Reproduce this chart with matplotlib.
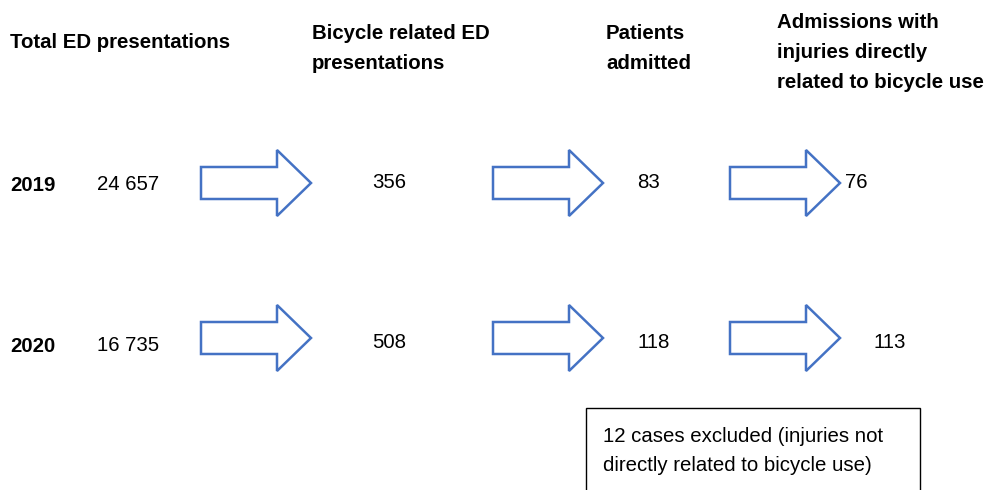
import matplotlib.pyplot as plt
from matplotlib.patches import Polygon, Rectangle

plt.rcParams['font.family'] = ['Liberation Sans', 'DejaVu Sans']

# stage headers and counts per year
headers = ['Total ED presentations',
           'Bicycle related ED\npresentations',
           'Patients\nadmitted',
           'Admissions with\ninjuries directly\nrelated to bicycle use']
years = ['2019', '2020']
total_ed = ['24 657', '16 735']
bicycle_ed = ['356', '508']
admitted = ['83', '118']
direct = ['76', '113']
note = '12 cases excluded (injuries not\ndirectly related to bicycle use)'

blue = '#4472C4'

fig = plt.figure(figsize=(9.89, 4.90), dpi=100)
ax = fig.add_axes([0, 0, 1, 1])
ax.set_xlim(0, 989)
ax.set_ylim(490, 0)
ax.axis('off')

fs = 14.7
ls = 1.72

# headers
ax.text(10, 43, headers[0], fontsize=fs, fontweight='bold', va='center', ha='left')
ax.text(312, 48.5, headers[1], fontsize=fs, fontweight='bold', va='center', ha='left', linespacing=ls)
ax.text(606, 48.5, headers[2], fontsize=fs, fontweight='bold', va='center', ha='left', linespacing=ls)
ax.text(777, 52.5, headers[3], fontsize=fs, fontweight='bold', va='center', ha='left', linespacing=ls)


def arrow(x0, yc):
    # block arrow 110 px long
    pts = [(x0, yc - 16), (x0 + 76, yc - 16), (x0 + 76, yc - 33), (x0 + 110, yc),
           (x0 + 76, yc + 33), (x0 + 76, yc + 16), (x0, yc + 16)]
    ax.add_patch(Polygon(pts, closed=True, facecolor='white', edgecolor=blue, lw=1.8))


row_y = [183, 338]
text_y = [[185, 184, 182, 182, 182], [346, 345, 342, 342, 342]]
for i, yr in enumerate(years):
    ty = text_y[i]
    ax.text(10, ty[0], yr, fontsize=fs, fontweight='bold', va='center', ha='left')
    ax.text(97, ty[1], total_ed[i], fontsize=fs, va='center', ha='left')
    ax.text(389, ty[2], bicycle_ed[i], fontsize=fs, va='center', ha='center')
    ax.text(i * 6 + 648, ty[3], admitted[i], fontsize=fs, va='center', ha='center')
    ax.text(856 + i * 34, ty[4], direct[i], fontsize=fs, va='center', ha='center')
    for x0 in [201, 493, 730]:
        arrow(x0, row_y[i])

ax.add_patch(Rectangle((586, 408), 334, 100, facecolor='white', edgecolor='black', lw=1.0, clip_on=True))
ax.text(603, 451, note, fontsize=fs, va='center', ha='left', linespacing=ls)

fig.savefig('out.png', dpi=100)
